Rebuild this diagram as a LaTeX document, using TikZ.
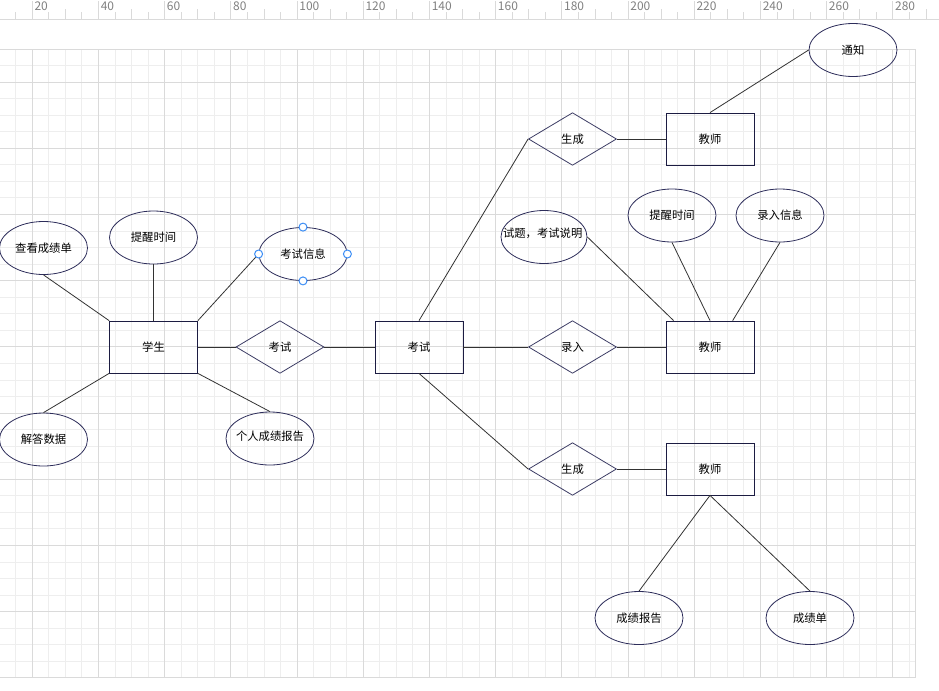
\documentclass[tikz,border=0pt]{standalone}
\usepackage{fontspec}
\setmainfont{Noto Sans CJK SC}
\usetikzlibrary{shapes.geometric}
\definecolor{rectc}{RGB}{28,28,66}
\definecolor{diac}{RGB}{60,60,100}
\definecolor{ellc}{RGB}{45,45,90}
\definecolor{linec}{RGB}{50,50,50}
\definecolor{gridminor}{RGB}{238,238,238}
\definecolor{gridmajor}{RGB}{218,218,218}
\definecolor{rulerc}{RGB}{128,128,128}
\definecolor{handlec}{RGB}{61,142,245}
\tikzset{
  every node/.style={font=\fontsize{8.5pt}{10pt}\selectfont, text=black},
  entity/.style={rectangle, draw=rectc, line width=0.6pt, minimum width=66pt, minimum height=39pt, inner sep=0pt},
  relation/.style={diamond, draw=diac, line width=0.6pt, aspect=1.7, minimum width=66pt, minimum height=39.5pt, inner sep=0pt},
  attrib/.style={ellipse, draw=ellc, line width=0.6pt, minimum width=66pt, minimum height=39.75pt, inner sep=0pt},
  conn/.style={draw=linec, line width=0.6pt},
  handle/.style={circle, draw=handlec, fill=white, line width=0.75pt, minimum size=6pt, inner sep=0pt},
  rulerlabel/.style={font=\fontsize{9pt}{10pt}\selectfont, text=rulerc, anchor=west, inner sep=0pt},
}
\begin{document}
\begin{tikzpicture}[x=0.75pt, y=-0.75pt]
\useasboundingbox (0,0) rectangle (939,690);
% ruler
\draw[gridmajor, line width=0.75pt] (0,19) -- (939,19);
\foreach \k in {-1,...,54} {
  \pgfmathsetmacro\xx{32.3+16.55*\k}
  \pgfmathtruncatemacro\m{mod(\k+4,4)}
  \ifnum\m=0
    \draw[gridmajor, line width=0.75pt] (\xx,1) -- (\xx,19);
  \else\ifnum\m=2
    \draw[gridmajor, line width=0.75pt] (\xx,9) -- (\xx,19);
  \else
    \draw[gridmajor, line width=0.75pt] (\xx,12) -- (\xx,19);
  \fi\fi
}
\foreach \k in {1,...,14} {
  \pgfmathsetmacro\xx{32.3+66.2*(\k-1)+2}
  \pgfmathtruncatemacro\lab{20*\k}
  \node[rulerlabel] (r\k) at (\xx,6.5) {\lab};
}
% grid
\foreach \k in {-1,...,53} {
  \pgfmathsetmacro\xx{32.3+16.55*\k}
  \draw[gridminor, line width=0.75pt] (\xx,49) -- (\xx,677.5);
}
\foreach \j in {0,...,38} {
  \pgfmathsetmacro\yy{49+16.55*\j}
  \draw[gridminor, line width=0.75pt] (0,\yy) -- (915.5,\yy);
}
\foreach \k in {0,...,13} {
  \pgfmathsetmacro\xx{32.3+66.2*\k}
  \draw[gridmajor, line width=0.75pt] (\xx,49) -- (\xx,677.5);
}
\foreach \j in {0,...,8} {
  \pgfmathsetmacro\yy{82.1+66.2*\j}
  \draw[gridmajor, line width=0.75pt] (0,\yy) -- (915.5,\yy);
}
\draw[gridmajor, line width=0.75pt] (0,49) -- (915.5,49) -- (915.5,677.5) -- (0,677.5);

% right part
\node[attrib, label=center:{通知}] (tz) at (853,50) {};
\node[relation] (g1) at (572.5,139) {生成};
\node[entity] (t1) at (710,139) {教师};
\node[entity] (ks) at (419,347) {考试};
\node[relation] (lr) at (572.5,347) {录入};
\node[entity] (t2) at (710,347) {教师};
\node[attrib, minimum width=64.5pt, label={[yshift=3pt, xshift=-1pt]center:{试题，考试说明}}] (ast) at (544,237) {};
\node[attrib, label=center:{提醒时间}] (atx2) at (672,215.5) {};
\node[attrib, label=center:{录入信息}] (alr) at (780,215.5) {};
\node[relation] (g2) at (572.5,469) {生成};
\node[entity] (t3) at (710,469) {教师};
\node[attrib, label=center:{成绩报告}] (acb) at (639,618) {};
\node[attrib, label=center:{成绩单}] (acd) at (810,618) {};

% left part
\node[entity] (xs) at (153.5,347) {学生};
\node[attrib, label=center:{查看成绩单}] (ack) at (43.5,248) {};
\node[attrib, label=center:{提醒时间}] (atx1) at (153.5,237.5) {};
\node[attrib, label=center:{考试信息}] (aks) at (303,254) {};
\node[relation] (ksd) at (280,347) {考试};
\node[attrib, label=center:{解答数据}] (ajd) at (43.5,439.5) {};
\node[attrib, label={[yshift=2pt]center:{个人成绩报告}}] (agr) at (270,438.5) {};

% connectors
\draw[conn] (ack.south) -- (xs.north west);
\draw[conn] (atx1.south) -- (xs.north);
\draw[conn] (xs.north east) -- (aks.west);
\draw[conn] (xs.south west) -- (ajd.north);
\draw[conn] (xs.south east) -- (agr.north);
\draw[conn] (xs.east) -- (ksd.west);
\draw[conn] (ksd.east) -- (ks.west);
\draw[conn] (ks.north) -- (g1.west);
\draw[conn] (ks.south) -- (g2.west);
\draw[conn] (ks.east) -- (lr.west);
\draw[conn] (lr.east) -- (t2.west);
\draw[conn] (g1.east) -- (t1.west);
\draw[conn] (t1.north) -- (tz.west);
\draw[conn] (ast.east) -- ([xshift=6pt]t2.north west);
\draw[conn] (atx2.south) -- (t2.north);
\draw[conn] (alr.south) -- ([xshift=17pt]t2.north);
\draw[conn] (g2.east) -- (t3.west);
\draw[conn] (t3.south) -- (acb.north);
\draw[conn] (t3.south) -- (acd.north);

% selection handles
\node[handle] (h1) at (aks.north) {};
\node[handle] (h2) at (aks.west) {};
\node[handle] (h3) at (aks.east) {};
\node[handle] (h4) at (aks.south) {};
\end{tikzpicture}
\end{document}
